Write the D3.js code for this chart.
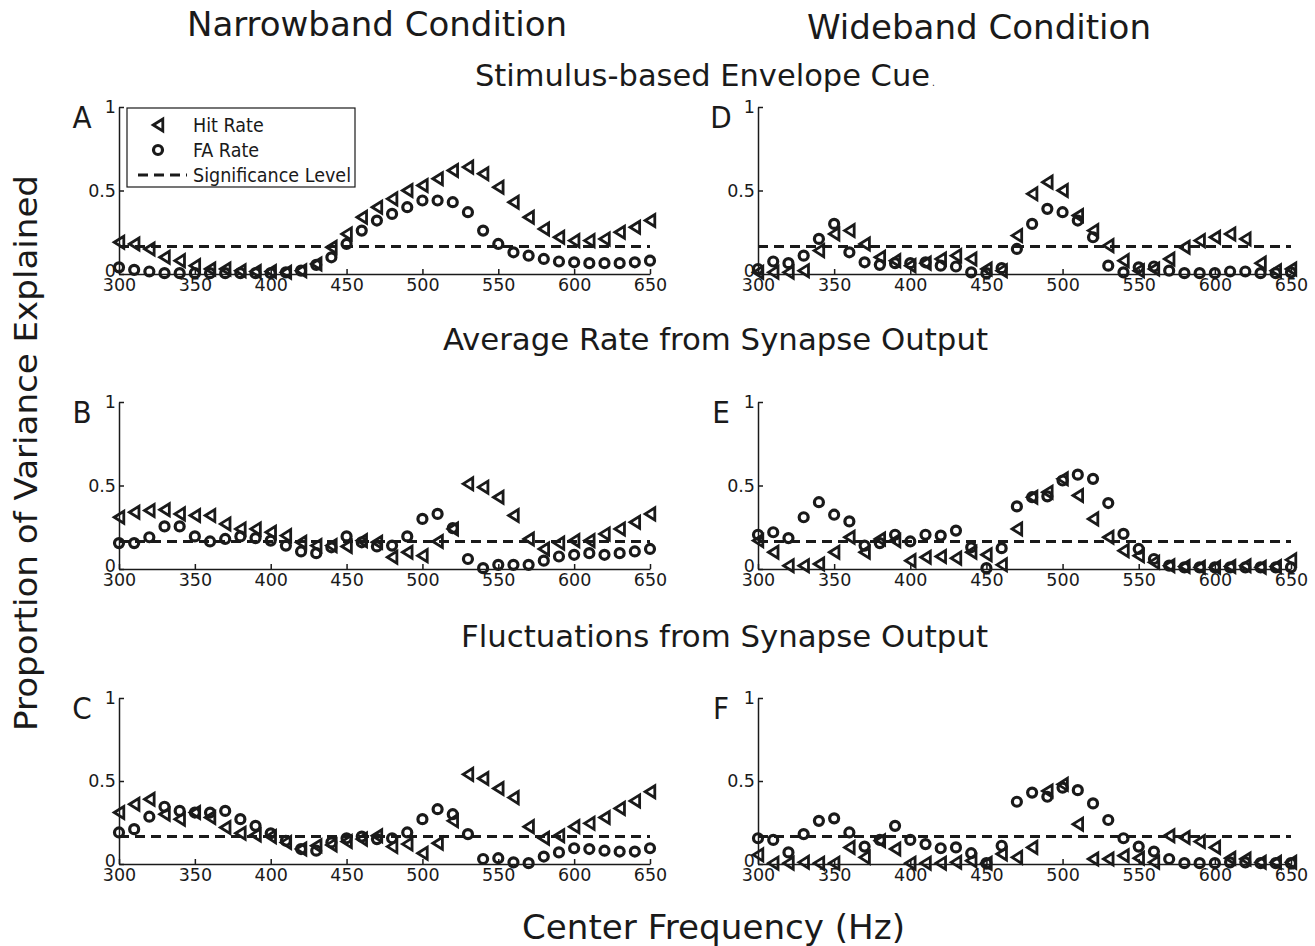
<!DOCTYPE html>
<html>
<head>
<meta charset="utf-8">
<script src="https://cdn.jsdelivr.net/npm/d3@7"></script>
<style>
  body { margin: 0; background: white; }
  svg { display: block; }
  .cond { font-family: "DejaVu Sans Condensed", "DejaVu Sans", sans-serif; font-stretch: condensed; fill: #1a1a1a; }
  .plain { font-family: "DejaVu Sans", sans-serif; fill: #1a1a1a; }
  .axis path, .axis line { stroke: #1a1a1a; stroke-width: 1.5; }
  .axis text { font-family: "DejaVu Sans", sans-serif; font-size: 17.5px; fill: #1a1a1a; }
</style>
</head>
<body>
<div id="chart"></div>
<script>
// center frequencies (Hz), one point every 10 Hz
const freqs = [300, 310, 320, 330, 340, 350, 360, 370, 380, 390, 400, 410, 420, 430, 440, 450, 460, 470,
    480, 490, 500, 510, 520, 530, 540, 550, 560, 570, 580, 590, 600, 610, 620, 630, 640, 650];

const xTicks = [300, 350, 400, 450, 500, 550, 600, 650];
const yTicks = [0, 0.5, 1];
const yTickLabels = ["0", "0.5", "1"];
const sigLevel = 0.165;

// A - narrowband, stimulus-based envelope cue
const hitA = [0.19, 0.18, 0.15, 0.10, 0.08, 0.05, 0.03, 0.03, 0.02, 0.015, 0.015, 0.01, 0.02, 0.06, 0.16, 0.24, 0.34, 0.40,
    0.45, 0.50, 0.53, 0.57, 0.62, 0.64, 0.60, 0.52, 0.43, 0.34, 0.27, 0.22, 0.20, 0.20, 0.21, 0.25, 0.28, 0.32];
const faA = [0.04, 0.025, 0.015, 0.005, 0.005, 0.005, 0.005, 0.005, 0.005, 0.005, 0.005, 0.01, 0.02, 0.055, 0.10, 0.18, 0.26, 0.32,
    0.36, 0.40, 0.44, 0.44, 0.43, 0.37, 0.26, 0.18, 0.13, 0.11, 0.09, 0.075, 0.07, 0.065, 0.065, 0.065, 0.07, 0.08];

// B - narrowband, average rate from synapse output
const hitB = [0.31, 0.34, 0.35, 0.355, 0.33, 0.32, 0.32, 0.27, 0.24, 0.24, 0.22, 0.20, 0.16, 0.14, 0.14, 0.135, 0.17, 0.16,
    0.07, 0.10, 0.08, 0.165, 0.24, 0.51, 0.49, 0.43, 0.32, 0.18, 0.12, 0.155, 0.17, 0.17, 0.21, 0.24, 0.28, 0.33];
const faB = [0.155, 0.155, 0.19, 0.255, 0.255, 0.195, 0.165, 0.18, 0.195, 0.185, 0.17, 0.14, 0.105, 0.095, 0.13, 0.195, 0.16, 0.135,
    0.14, 0.195, 0.30, 0.33, 0.245, 0.06, 0.005, 0.025, 0.025, 0.025, 0.05, 0.075, 0.085, 0.095, 0.085, 0.095, 0.105, 0.12];

// C - narrowband, fluctuations from synapse output
const hitC = [0.31, 0.36, 0.39, 0.30, 0.27, 0.31, 0.28, 0.22, 0.185, 0.175, 0.165, 0.13, 0.09, 0.11, 0.115, 0.135, 0.15, 0.17,
    0.105, 0.12, 0.065, 0.125, 0.26, 0.54, 0.515, 0.455, 0.40, 0.225, 0.155, 0.17, 0.225, 0.245, 0.28, 0.335, 0.38, 0.435];
const faC = [0.19, 0.21, 0.285, 0.345, 0.32, 0.31, 0.31, 0.32, 0.27, 0.23, 0.185, 0.14, 0.09, 0.08, 0.13, 0.155, 0.165, 0.15,
    0.155, 0.19, 0.27, 0.33, 0.30, 0.18, 0.03, 0.035, 0.01, 0.005, 0.045, 0.07, 0.095, 0.09, 0.08, 0.075, 0.075, 0.095];

// D - wideband, stimulus-based envelope cue
const hitD = [0.01, 0.01, 0.01, 0.02, 0.14, 0.24, 0.26, 0.18, 0.10, 0.08, 0.05, 0.065, 0.09, 0.11, 0.09, 0.03, 0.02, 0.23,
    0.48, 0.55, 0.50, 0.35, 0.26, 0.17, 0.08, 0.02, 0.03, 0.09, 0.16, 0.20, 0.22, 0.24, 0.21, 0.065, 0.02, 0.03];
const faD = [0.03, 0.075, 0.065, 0.11, 0.21, 0.30, 0.13, 0.07, 0.055, 0.065, 0.065, 0.07, 0.05, 0.045, 0.01, 0.005, 0.035, 0.15,
    0.30, 0.39, 0.37, 0.32, 0.22, 0.05, 0.01, 0.04, 0.045, 0.02, 0.005, 0.005, 0.005, 0.015, 0.015, 0.005, 0.005, 0.01];

// E - wideband, average rate from synapse output
const hitE = [0.17, 0.10, 0.02, 0.02, 0.03, 0.10, 0.19, 0.10, 0.18, 0.17, 0.05, 0.07, 0.075, 0.065, 0.10, 0.085, 0.025, 0.24,
    0.43, 0.46, 0.54, 0.44, 0.30, 0.19, 0.11, 0.08, 0.04, 0.02, 0.015, 0.01, 0.01, 0.015, 0.02, 0.01, 0.015, 0.055];
const faE = [0.205, 0.22, 0.185, 0.31, 0.40, 0.325, 0.285, 0.14, 0.155, 0.205, 0.165, 0.205, 0.20, 0.23, 0.13, 0.005, 0.125, 0.375,
    0.43, 0.435, 0.53, 0.565, 0.54, 0.395, 0.21, 0.12, 0.06, 0.02, 0.01, 0.01, 0.01, 0.01, 0.01, 0.01, 0.01, 0.01];

// F - wideband, fluctuations from synapse output
const hitF = [0.055, 0.005, 0.005, 0.01, 0.005, 0.005, 0.10, 0.04, 0.14, 0.09, 0.005, 0.005, 0.005, 0.01, 0.02, 0.005, 0.06, 0.04,
    0.10, 0.44, 0.48, 0.24, 0.03, 0.03, 0.05, 0.035, 0.01, 0.17, 0.16, 0.135, 0.10, 0.035, 0.03, 0.01, 0.01, 0.01];
const faF = [0.155, 0.145, 0.07, 0.18, 0.26, 0.275, 0.19, 0.105, 0.145, 0.23, 0.145, 0.12, 0.095, 0.10, 0.065, 0.005, 0.11, 0.375,
    0.43, 0.405, 0.46, 0.445, 0.365, 0.265, 0.155, 0.105, 0.075, 0.03, 0.005, 0.005, 0.005, 0.01, 0.01, 0.005, 0.005, 0.005];

const panelLetters = ["A", "B", "C", "D", "E", "F"];
const panelHits = [hitA, hitB, hitC, hitD, hitE, hitF];
const panelFAs = [faA, faB, faC, faD, faE, faF];

const rowTitles = ["Stimulus-based Envelope Cue", "Average Rate from Synapse Output", "Fluctuations from Synapse Output"];
const colTitles = ["Narrowband Condition", "Wideband Condition"];
const legendLabels = ["Hit Rate", "FA Rate", "Significance Level"];

const width = 1315, height = 946;
const ink = "#1a1a1a";

const svg = d3.select("#chart").append("svg")
    .attr("width", width)
    .attr("height", height);

// pixel ranges of the two columns and three rows
const colRanges = [[119, 650], [758, 1291]];
const rowRanges = [[274, 107], [569, 402], [864, 698]];

const triPath = "M-4.8,0L4.8,-6L4.8,6Z";

panelLetters.forEach((letter, i) => {
    const col = Math.floor(i / 3);
    const row = i % 3;
    const x = d3.scaleLinear().domain([300, 650]).range(colRanges[col]);
    const y = d3.scaleLinear().domain([0, 1]).range(rowRanges[row]);
    const g = svg.append("g");

    // axes, matlab style: inward ticks, no box
    g.append("g")
        .attr("class", "axis")
        .attr("transform", "translate(0," + y(0) + ")")
        .call(d3.axisBottom(x).tickValues(xTicks).tickSizeInner(-5).tickSizeOuter(0).tickPadding(3))
        .call(a => a.selectAll("text").attr("dy", "0.78em"));
    g.append("g")
        .attr("class", "axis")
        .attr("transform", "translate(" + x(300) + ",0)")
        .call(d3.axisLeft(y).tickValues(yTicks).tickFormat((d, k) => yTickLabels[k]).tickSizeInner(-5).tickSizeOuter(0).tickPadding(3))
        .call(a => a.selectAll("text").attr("dy", (d) => d === 0 ? "0.12em" : "0.32em"));

    // significance level
    g.append("line")
        .attr("x1", x(300))
        .attr("x2", x(650))
        .attr("y1", y(sigLevel))
        .attr("y2", y(sigLevel))
        .attr("stroke", ink)
        .attr("stroke-width", 3)
        .attr("stroke-dasharray", "10,6");

    const hits = panelHits[i];
    const fas = panelFAs[i];

    g.selectAll("path.hit")
        .data(freqs)
        .enter()
        .append("path")
        .attr("class", "hit")
        .attr("d", triPath)
        .attr("transform", (d, k) => "translate(" + x(d) + "," + y(hits[k]) + ")")
        .attr("fill", "none")
        .attr("stroke", ink)
        .attr("stroke-width", 2.8)
        .attr("stroke-linejoin", "miter");

    g.selectAll("circle.fa")
        .data(freqs)
        .enter()
        .append("circle")
        .attr("class", "fa")
        .attr("cx", d => x(d))
        .attr("cy", (d, k) => y(fas[k]))
        .attr("r", 4.5)
        .attr("fill", "none")
        .attr("stroke", ink)
        .attr("stroke-width", 3.2);

    // panel letter
    g.append("text")
        .attr("class", "cond")
        .attr("x", x(300) - 37)
        .attr("y", y(1) + 21)
        .attr("text-anchor", "middle")
        .attr("font-size", 31)
        .text(letter);

    // legend only in panel A
    if (i === 0) {
        const lx = x(300) + 8, ly = y(1) + 1;
        const lg = g.append("g").attr("transform", "translate(" + lx + "," + ly + ")");
        lg.append("rect")
            .attr("width", 228)
            .attr("height", 79)
            .attr("fill", "white")
            .attr("stroke", ink)
            .attr("stroke-width", 1.2);
        lg.append("path")
            .attr("d", triPath)
            .attr("transform", "translate(31,17)")
            .attr("fill", "none")
            .attr("stroke", ink)
            .attr("stroke-width", 2.8);
        lg.append("circle")
            .attr("cx", 31)
            .attr("cy", 42)
            .attr("r", 4.5)
            .attr("fill", "none")
            .attr("stroke", ink)
            .attr("stroke-width", 3.2);
        lg.append("line")
            .attr("x1", 11)
            .attr("x2", 60)
            .attr("y1", 67)
            .attr("y2", 67)
            .attr("stroke", ink)
            .attr("stroke-width", 3)
            .attr("stroke-dasharray", "10,6");
        legendLabels.forEach((lab, k) => {
            lg.append("text")
                .attr("class", "cond")
                .attr("x", 66)
                .attr("y", 24 + k * 25)
                .attr("font-size", 19.5)
                .text(lab);
        });
    }
});

// column titles
svg.append("text")
    .attr("class", "cond")
    .attr("x", 187).attr("y", 36)
    .attr("font-size", 34)
    .attr("textLength", 380).attr("lengthAdjust", "spacingAndGlyphs")
    .text(colTitles[0]);
svg.append("text")
    .attr("class", "cond")
    .attr("x", 807).attr("y", 39)
    .attr("font-size", 34)
    .attr("textLength", 344).attr("lengthAdjust", "spacingAndGlyphs")
    .text(colTitles[1]);

// row titles
const rowTitleX = [475, 443, 461];
const rowTitleLen = [455, 545, 527];
const rowTitleY = [86, 350, 647];
rowTitles.forEach((t, k) => {
    svg.append("text")
        .attr("class", "cond")
        .attr("x", rowTitleX[k]).attr("y", rowTitleY[k])
        .attr("font-size", 30)
        .attr("textLength", rowTitleLen[k]).attr("lengthAdjust", "spacingAndGlyphs")
        .text(t);
    if (k === 0) {
        svg.append("text")
            .attr("class", "cond")
            .attr("x", 932).attr("y", 86)
            .attr("font-size", 10)
            .text(".");
    }
});

// axis titles
svg.append("text")
    .attr("class", "plain")
    .attr("x", 522).attr("y", 939)
    .attr("font-size", 33)
    .attr("textLength", 383).attr("lengthAdjust", "spacingAndGlyphs")
    .text("Center Frequency (Hz)");
svg.append("text")
    .attr("class", "plain")
    .attr("transform", "translate(37,731) rotate(-90)")
    .attr("font-size", 32)
    .attr("textLength", 556).attr("lengthAdjust", "spacingAndGlyphs")
    .text("Proportion of Variance Explained");
</script>
</body>
</html>
